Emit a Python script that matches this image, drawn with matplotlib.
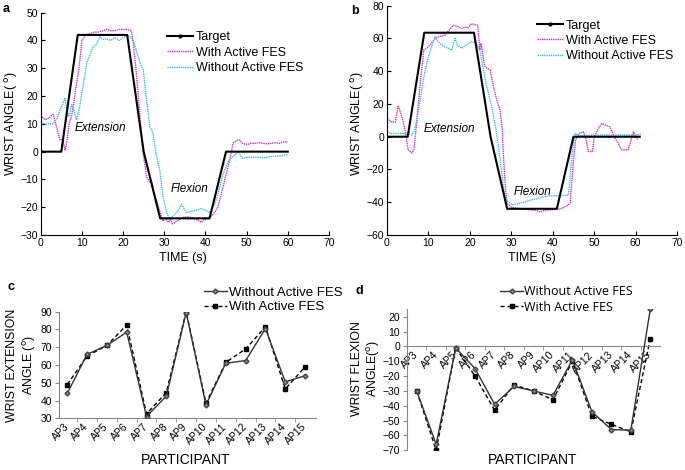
import matplotlib
matplotlib.use("Agg")
import matplotlib.pyplot as plt
from matplotlib.lines import Line2D

plt.rcParams['font.family'] = ['Liberation Sans', 'DejaVu Sans']

# ---- panel a ----
a_tgt_t = [0, 5, 9, 21, 25, 29, 41, 45, 60]
a_tgt_v = [0, 0, 42, 42, 0, -24, -24, 0, 0]

a_with_t = [0, 0.1, 1, 2, 3, 3.5, 4, 4.7, 5.3, 5.9, 6.3, 6.9, 7.5, 8, 8.7, 9.3, 10, 11, 12, 13, 14, 15,
            16, 17, 18, 19, 20, 21, 22, 22.5, 23.3, 24.1, 24.9, 25.7, 26.5, 27, 27.5, 28.1, 29, 29.7, 30.3,
            31, 31.5, 32, 33, 34, 35, 36, 37, 38, 39, 39.5, 40, 41, 41.9, 43, 44.3, 45.2, 45.9, 46.7, 47.5,
            48.3, 49, 50, 51, 52, 53, 54, 55, 56, 57, 58, 59, 60]
a_with_v = [0, 13, 11.5, 12, 13.5, 11, 8, 4.2, 4.5, 0.6, 3, 10, 13, 17, 24.6, 30, 40, 42, 42.5, 43, 43,
            43.5, 44, 43.5, 43.5, 44, 44, 44, 43.5, 39, 27, 12.6, -0.6, -9, -11, -11, -15, -17.4, -22,
            -25, -24, -25.5, -24.5, -26, -25, -24, -23.5, -23.5, -24, -24.5, -25.5, -24.5, -24.5, -23.5,
            -22.5, -20, -12.6, -7, -3, 3, 4, 4.2, 3, 2.5, 3, 3, 3.2, 3, 2.8, 3, 3.2, 3, 3.5, 3.5]

a_wo_t = [0, 0.2, 1, 2, 3, 4, 4.7, 5.3, 5.9, 6.3, 6.7, 7.1, 7.5, 8, 8.7, 9.3, 10, 11.2, 12, 12.8, 13.5,
          14.4, 15, 16, 17, 18, 19, 20, 21, 22, 22.5, 23.3, 24.1, 24.9, 25.7, 26.5, 27.3, 28.1, 28.9,
          29.7, 30.6, 31.4, 32.2, 33, 34.2, 35.4, 36.5, 38, 39, 40, 41, 41.9, 42.7, 43.5, 44.3, 45,
          45.8, 46.7, 47.9, 49, 50, 52, 54, 56, 58, 60]
a_wo_v = [0, 10.5, 10, 10, 10, 12, 15, 17, 19.2, 16, 12.6, 14, 17, 15, 11.4, 15, 21, 32, 35, 38, 38.5,
          41.4, 40.5, 40.5, 40, 41, 40, 41, 42, 41, 40, 36, 32, 29.4, 18.6, 9, 6.6, -1.8, -6.6, -16,
          -22, -24.6, -23, -22, -19, -22, -21.5, -21, -20.5, -21, -22, -19.8, -17, -12.6, -8, -5.4,
          -3, -1.8, 0, -2.4, -2, -2, -2.2, -1.8, -1.5, -1]

# ---- panel b ----
b_tgt_t = [0, 5, 9, 21, 25, 29, 41, 45, 61]
b_tgt_v = [0, 0, 63.5, 63.5, 0, -44, -44, 0, 0]

b_with_t = [0, 0.1, 1, 2, 2.7, 3.5, 4.2, 4.6, 5.1, 6, 6.5, 6.9, 7.5, 8, 8.9, 10, 11, 11.6, 12.5, 14,
            15, 16, 17, 18, 18.8, 19.5, 20.4, 21.2, 21.9, 22.4, 22.7, 23.6, 24.9, 25.7, 26.5, 27.3,
            27.8, 28.1, 28.5, 28.9, 30, 32, 34, 36, 37, 38, 40, 42, 43.5, 44.2, 44.9, 45.5, 46.3, 47.4,
            48.1, 48.6, 49.6, 50, 51, 51.8, 52.8, 53.8, 55, 55.8, 56.6, 58.2, 58.8, 59.5, 60, 60.6]
b_with_v = [0, 11, 9, 9, 19, 13, 6, 0, -8, -10, -8, 2, 18, 32.6, 53, 55, 58, 60, 61, 62, 65, 68, 67.5,
            66, 67, 66.5, 69, 68.5, 68, 53, 57, 42.8, 40.7, 30.5, 22.4, 16, 5, -12, -28, -40.6, -43,
            -44, -44.5, -45, -46, -45, -44.5, -44, -42, -40.6, -18.3, -2, 2, 3, -2, -9, -9, 0, 5, 8, 7,
            6, -0.9, -4, -8, -8, -3, 3, 0, -2]

b_wo_t = [0, 0.1, 1, 3, 5, 6, 6.5, 7, 8, 9, 10, 11, 11.6, 12, 13.2, 14, 15.6, 16.4, 17, 18, 19, 20.4,
          21.6, 22.5, 23.7, 25.3, 26.2, 26.9, 27.6, 28.3, 29, 30.1, 31.7, 33, 34.9, 36.5, 38.1, 40,
          42, 43.8, 44.6, 45.4, 46, 47, 50, 55, 60, 61.5]
b_wo_v = [0, 3, 2, 2, 2, 1, 3, 8, 22, 38, 49, 57, 61, 59, 56, 55, 53, 60, 56, 54, 56, 58, 57, 52,
          34.6, 18, 6, -6, -20, -34.6, -39, -41.7, -40.7, -40, -38.6, -37.5, -36.6, -36, -36, -35.6,
          -12, 2, 1, 0.5, 1, 1, 1, 1.5]

# ---- panels c, d ----
participants = ['AP3', 'AP4', 'AP5', 'AP6', 'AP7', 'AP8', 'AP9', 'AP10', 'AP11', 'AP12', 'AP13',
                'AP14', 'AP15']
ext_without = [44, 66, 71, 78.5, 31, 42.5, 89.5, 37.5, 61, 62.5, 80.5, 50.5, 54]
ext_with = [49, 65, 71, 82.5, 32.5, 44.5, 90, 38.5, 61.5, 69, 81.5, 46.5, 59]
flex_without = [-30, -66, -1, -15, -39, -27, -30, -33, -9, -44, -56, -56.5, 25]
flex_with = [-30, -70, -1, -20, -43, -26, -30, -36, -10, -47, -52.5, -57.5, 5]

MAG = '#cc33cc'
CYA = '#3fb8ee'

fig = plt.figure(figsize=(6.85, 4.70), dpi=100)


def fx(px):
    return px / 685.0


def fy(py):
    return 1 - py / 470.0


def time_panel(ax, tt, tv, wt, wv, ot, ov):
    ax.plot(tt, tv, color='black', lw=1.5, zorder=3)
    ax.plot(wt, wv, color=MAG, lw=1.0, ls=(0, (1, 0.6)), zorder=2)
    ax.plot(ot, ov, color=CYA, lw=1.0, ls=(0, (1, 0.6)), zorder=2)
    ax.spines['top'].set_visible(False)
    ax.spines['right'].set_visible(False)
    ax.tick_params(direction='in', length=3, labelsize=7.5, pad=2)
    ax.set_xlim(0, 70)
    ax.set_xticks(range(0, 71, 10))
    handles = [Line2D([], [], color='black', lw=1.5, marker='.', ms=4),
               Line2D([], [], color=MAG, lw=1.0, ls=(0, (1, 0.6))),
               Line2D([], [], color=CYA, lw=1.0, ls=(0, (1, 0.6)))]
    return handles


names = ['Target', 'With Active FES', 'Without Active FES']

# a
ax_a = fig.add_axes([fx(40.7), fy(235), fx(329 - 40.7), (235 - 12.7) / 470.0])
h = time_panel(ax_a, a_tgt_t, a_tgt_v, a_with_t, a_with_v, a_wo_t, a_wo_v)
ax_a.set_ylim(-30, 50)
ax_a.set_yticks(range(-30, 51, 10))
ax_a.legend(h, names, loc='upper left', bbox_to_anchor=(0.416, 0.945), frameon=False, fontsize=9,
            handlelength=2.1, labelspacing=0.28, handletextpad=0.2, borderpad=0)
ax_a.text(8.3, 8.5, 'Extension', fontsize=8.5, style='italic', va='center')
ax_a.text(31.6, -13.5, 'Flexion', fontsize=8.5, style='italic', va='center')

# b
ax_b = fig.add_axes([fx(387), fy(235), fx(677 - 387), (235 - 5.7) / 470.0])
h = time_panel(ax_b, b_tgt_t, b_tgt_v, b_with_t, b_with_v, b_wo_t, b_wo_v)
ax_b.set_ylim(-60, 80)
ax_b.set_yticks(range(-60, 81, 20))
ax_b.legend(h, names, loc='upper left', bbox_to_anchor=(0.496, 0.966), frameon=False, fontsize=9,
            handlelength=2.1, labelspacing=0.25, handletextpad=0.2, borderpad=0)
ax_b.text(8.9, 4.5, 'Extension', fontsize=8.5, style='italic', va='center')
ax_b.text(30.5, -33.5, 'Flexion', fontsize=8.5, style='italic', va='center')

for x, txt in [(12, 'WRIST ANGLE( $^{\\mathrm{o}}$)'), (357, 'WRIST ANGLE( $^{\\mathrm{o}}$)')]:
    fig.text(fx(x), fy(124), txt, rotation=90, ha='center', va='center', fontsize=9)
fig.text(fx(183), fy(258), 'TIME (s)', ha='center', va='center', fontsize=9)
fig.text(fx(532), fy(258), 'TIME (s)', ha='center', va='center', fontsize=9)


def part_panel(ax, wo, wi):
    xs = list(range(len(participants)))
    ax.plot(xs, wo, color='#333333', lw=1.0, marker='D', ms=2.5, mfc='#888888', mec='#444444',
            zorder=3)
    ax.plot(xs, wi, color='black', lw=1.0, ls=(0, (3, 2)), marker='s', ms=3, zorder=2)
    ax.spines['top'].set_visible(False)
    ax.spines['right'].set_visible(False)
    ax.set_xticks(xs)
    ax.set_xticklabels(participants, rotation=45, ha='right', va='center',
                       rotation_mode='anchor', fontsize=7.5)
    ax.set_xticks([x + 0.5 for x in xs[:-1]], minor=True)
    ax.tick_params(axis='x', which='major', length=0, pad=5)
    ax.tick_params(axis='x', which='minor', length=3, direction='out')
    ax.tick_params(axis='y', length=3, direction='out', labelsize=7.5, pad=2)
    ax.spines['left'].set_color('#888888')
    ax.spines['bottom'].set_color('#888888')
    ax.tick_params(which='both', color='#888888')
    handles = [Line2D([], [], color='#333333', lw=1.0, marker='D', ms=2.5, mfc='#888888',
                      mec='#444444'),
               Line2D([], [], color='black', lw=1.0, ls=(0, (3, 2)), marker='s', ms=3)]
    return handles


# c
ax_c = fig.add_axes([fx(59.3), fy(418.3), fx(316 - 59.3), (418.3 - 311.7) / 470.0])
h = part_panel(ax_c, ext_without, ext_with)
ax_c.set_xlim(-0.4, 12.55)
ax_c.set_ylim(30, 90)
ax_c.set_yticks(range(30, 91, 10))
ax_c.legend(h, ['Without Active FES', 'With Active FES'], loc='lower left',
            bbox_to_anchor=(fx(197), fy(320)), bbox_transform=fig.transFigure, frameon=False,
            fontsize=9.5, handlelength=1.8, labelspacing=0.2, handletextpad=0.1, borderpad=0)
fig.text(fx(12), fy(365), 'WRIST EXTENSION', rotation=90, ha='center', va='center', fontsize=8.8)
fig.text(fx(29), fy(365), 'ANGLE ($^{\\mathrm{o}}$)', rotation=90, ha='center', va='center',
         fontsize=8.8)
fig.text(fx(186), fy(460), 'PARTICIPANT', ha='center', va='center', fontsize=10)

# d
ax_d = fig.add_axes([fx(407), fy(450.3), fx(660 - 407), (450.3 - 309.3) / 470.0])
ax_d.spines['bottom'].set_position(('data', 0))
h = part_panel(ax_d, flex_without, flex_with)
ax_d.set_xlim(-0.5, 12.5)
ax_d.set_ylim(-70, 25)
ax_d.set_yticks(range(-70, 21, 10))
ax_d.legend(h, ['Without Active FES', 'With Active FES'], loc='lower left',
            bbox_to_anchor=(fx(494), fy(320)), bbox_transform=fig.transFigure, frameon=False,
            handlelength=1.8, labelspacing=0.2, handletextpad=0.1, borderpad=0,
            prop={'family': 'Open Sans', 'size': 9})
fig.text(fx(357), fy(369), 'WRIST FLEXION', rotation=90, ha='center', va='center', fontsize=8.8)
fig.text(fx(374), fy(369), 'ANGLE($^{\\mathrm{o}}$)', rotation=90, ha='center', va='center',
         fontsize=8.8)
fig.text(fx(533), fy(460), 'PARTICIPANT', ha='center', va='center', fontsize=10)

for x, y, s in [(3, 9, 'a'), (351, 11, 'b'), (8, 287, 'c'), (355, 291, 'd')]:
    fig.text(fx(x), fy(y), s, fontsize=9, fontweight='bold', va='center')

fig.savefig('out.png', dpi=100)
